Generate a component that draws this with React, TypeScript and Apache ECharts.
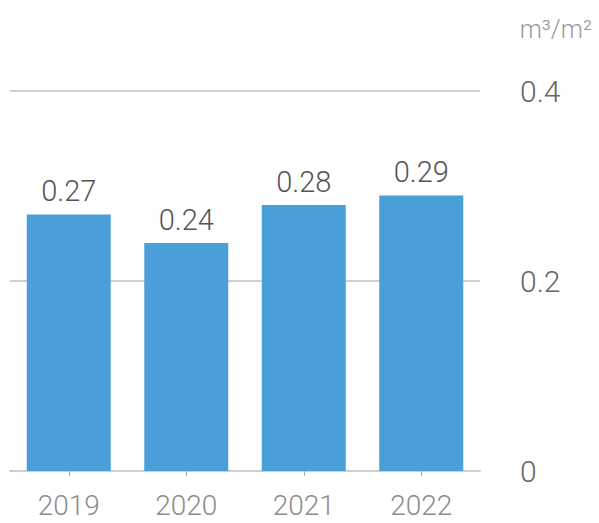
import React, { useEffect, useRef } from "react";
import * as echarts from "echarts";

const categories = ["2019", "2020", "2021", "2022"];
const values = [0.27, 0.24, 0.28, 0.29];
const yTicks = [0, 0.2, 0.4];
const unitLabel = "m³/m²";

export default function App() {
  const ref = useRef<HTMLDivElement>(null);
  useEffect(() => {
    if (!ref.current) return;
    const chart = echarts.init(ref.current, undefined, { renderer: "svg" });
    chart.setOption({
      animation: false,
      textStyle: { fontFamily: "Roboto" },
      grid: { left: 10, right: 119, top: 91, bottom: 52, containLabel: false },
      graphic: [
        {
          type: "text",
          right: 7,
          top: 17,
          style: { text: unitLabel, fontSize: 25, fill: "#9a9a9a", fontFamily: "Roboto", fontWeight: 300 },
        },
      ],
      xAxis: {
        type: "category",
        data: categories,
        axisLine: { lineStyle: { color: "#d6cccc", width: 2 } },
        axisTick: { show: true, alignWithLabel: true, length: 5, lineStyle: { color: "#aaaaaa", width: 1 } },
        axisLabel: { color: "#8c8c8c", fontSize: 28, margin: 20, fontWeight: 300, fontFamily: "Roboto" },
      },
      yAxis: {
        type: "value",
        position: "right",
        min: 0,
        max: 0.4,
        interval: 0.2,
        axisLine: { show: false },
        axisTick: { show: false },
        splitLine: { lineStyle: { color: "#cfcfcf", width: 2 } },
        axisLabel: {
          color: "#666666",
          fontSize: 30,
          margin: 40,
          fontWeight: 300,
          fontFamily: "Roboto",
          formatter: (v: number) => (yTicks.includes(v) ? String(v) : ""),
        },
      },
      series: [
        {
          type: "bar",
          data: values,
          barWidth: 84,
          itemStyle: { color: "#4a9fd8" },
          label: {
            show: true,
            position: "top",
            distance: 9,
            color: "#555555",
            fontSize: 29,
            fontWeight: 300,
            fontFamily: "Roboto",
            formatter: (p: any) => p.value.toFixed(2),
          },
        },
      ],
    });
    return () => chart.dispose();
  }, []);
  return <div ref={ref} style={{ width: 599, height: 523, position: "absolute", left: 0, top: 0 }} />;
}
